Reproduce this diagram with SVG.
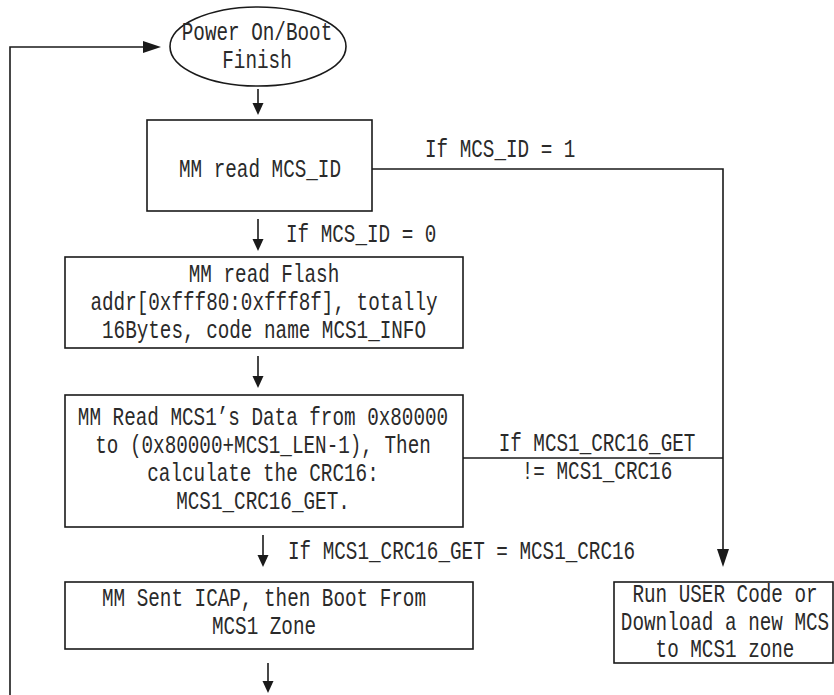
<svg xmlns="http://www.w3.org/2000/svg" width="834" height="695" viewBox="0 0 834 695">
  <style>
    .shape { fill: #ffffff; stroke: #1a1a1a; stroke-width: 1.6; }
    .wire { fill: none; stroke: #1a1a1a; stroke-width: 1.6; }
    .t { font-family: "Liberation Mono", "Noto Sans CJK SC", monospace; font-size: 19.3px; fill: #2a2a2a; }
    .c { text-anchor: middle; }
  </style>
  <defs>
    <!-- short arrowhead for the main downward flow -->
    <marker id="headShort" markerUnits="userSpaceOnUse" markerWidth="12" markerHeight="12" refX="9" refY="6" orient="auto">
      <path d="M0,0.5 L12,6 L0,11.5 Z" fill="#1a1a1a"/>
    </marker>
    <!-- long arrowhead for the loop-back and exit branch -->
    <marker id="headLong" markerUnits="userSpaceOnUse" markerWidth="18" markerHeight="12" refX="15" refY="6" orient="auto">
      <path d="M0,0 L18,6 L0,12 Z" fill="#1a1a1a"/>
    </marker>
  </defs>

  <rect width="834" height="695" fill="#ffffff"/>

  <!-- text is drawn slightly taller than the font's natural proportions -->
  <g id="connectors">
    <polyline class="wire" points="10,695 10,47 158,47" marker-end="url(#headLong)"/>
    <line class="wire" x1="258" y1="89" x2="258" y2="112" marker-end="url(#headShort)"/>
    <line class="wire" x1="258" y1="219" x2="258" y2="248" marker-end="url(#headShort)"/>
    <line class="wire" x1="258" y1="356" x2="258" y2="385" marker-end="url(#headShort)"/>
    <line class="wire" x1="263" y1="535" x2="263" y2="564" marker-end="url(#headShort)"/>
    <line class="wire" x1="268" y1="663" x2="268" y2="690" marker-end="url(#headShort)"/>
    <polyline class="wire" points="372,169 723,169 723,564" marker-end="url(#headLong)"/>
    <line class="wire" x1="463" y1="458" x2="723" y2="458"/>
    <text class="t" transform="translate(425 157) scale(1 1.34)">If MCS_ID = 1</text>
    <text class="t" transform="translate(286 242) scale(1 1.34)">If MCS_ID = 0</text>
    <text class="t c" transform="translate(597 451) scale(1 1.34)">If MCS1_CRC16_GET</text>
    <text class="t c" transform="translate(597 479) scale(1 1.34)">!= MCS1_CRC16</text>
    <text class="t" transform="translate(288 559) scale(1 1.34)">If MCS1_CRC16_GET = MCS1_CRC16</text>
  </g>

  <g id="start">
    <ellipse class="shape" cx="258" cy="46.5" rx="88" ry="39.5"/>
    <text class="t c" transform="translate(257 40) scale(1 1.34)">Power On/Boot</text>
    <text class="t c" transform="translate(257 68) scale(1 1.34)">Finish</text>
  </g>

  <g id="read-id">
    <rect class="shape" x="147" y="120" width="225" height="91"/>
    <text class="t c" transform="translate(260 177) scale(1 1.34)">MM read MCS_ID</text>
  </g>

  <g id="read-info">
    <rect class="shape" x="65" y="257" width="398" height="91"/>
    <text class="t c" transform="translate(264 282) scale(1 1.34)">MM read Flash</text>
    <text class="t c" transform="translate(264 310) scale(1 1.34)">addr[0xfff80:0xfff8f], totally</text>
    <text class="t c" transform="translate(264 338) scale(1 1.34)">16Bytes, code name MCS1_INFO</text>
  </g>

  <g id="calc-crc">
    <rect class="shape" x="65" y="395" width="398" height="132"/>
    <text class="t c" transform="translate(263 425) scale(1 1.34)">MM Read MCS1’s Data from 0x80000</text>
    <text class="t c" transform="translate(263 453) scale(1 1.34)">to (0x80000+MCS1_LEN-1), Then</text>
    <text class="t c" transform="translate(263 481) scale(1 1.34)">calculate the CRC16:</text>
    <text class="t c" transform="translate(263 509) scale(1 1.34)">MCS1_CRC16_GET.</text>
  </g>

  <g id="boot-mcs1">
    <rect class="shape" x="65" y="582" width="408" height="67"/>
    <text class="t c" transform="translate(264 606) scale(1 1.34)">MM Sent ICAP, then Boot From</text>
    <text class="t c" transform="translate(264 634) scale(1 1.34)">MCS1 Zone</text>
  </g>

  <g id="user-code">
    <rect class="shape" x="614" y="582" width="219" height="81"/>
    <text class="t c" transform="translate(725 602) scale(1 1.34)">Run USER Code or</text>
    <text class="t c" transform="translate(725 630) scale(1 1.34)">Download a new MCS</text>
    <text class="t c" transform="translate(725 657) scale(1 1.34)">to MCS1 zone</text>
  </g>
</svg>
